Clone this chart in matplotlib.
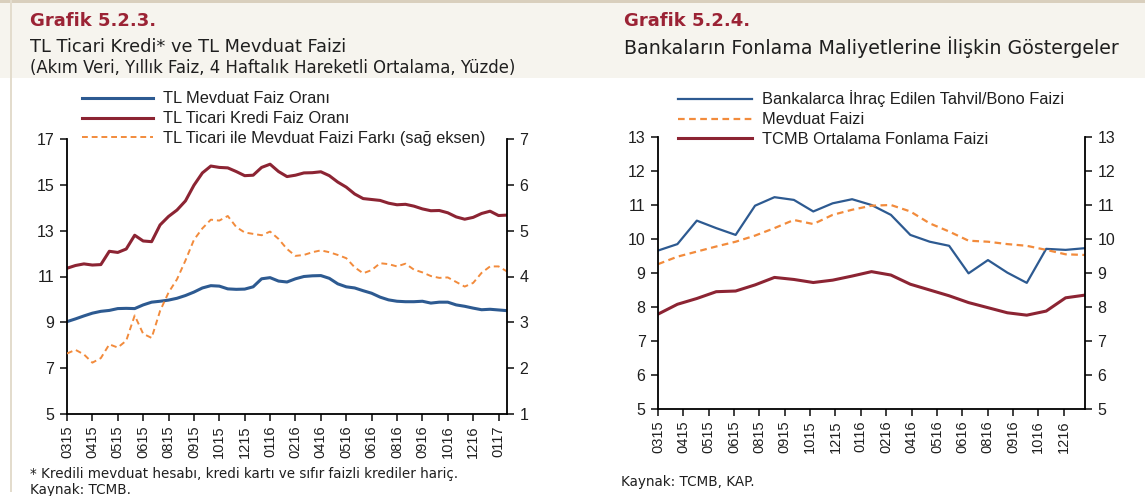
import numpy as np
import matplotlib
matplotlib.use("Agg")
import matplotlib.pyplot as plt
from matplotlib.patches import Rectangle

# ---- data: Grafik 5.2.3 (weekly-ish points, left chart)
left_ticklabels = ['0315', '0415', '0515', '0615', '0815', '0915', '1015', '1215', '0116',
                   '0216', '0416', '0516', '0616', '0816', '0916', '1016', '1216', '0117']

kredi = [11.36, 11.48, 11.55, 11.50, 11.52, 12.10, 12.05, 12.20, 12.80, 12.55, 12.52, 13.25,
         13.62, 13.90, 14.30, 14.98, 15.52, 15.82, 15.76, 15.74, 15.58, 15.40, 15.42, 15.76,
         15.90, 15.58, 15.36, 15.42, 15.52, 15.53, 15.57, 15.40, 15.12, 14.90, 14.60, 14.40,
         14.36, 14.32, 14.20, 14.13, 14.15, 14.07, 13.95, 13.87, 13.88, 13.78, 13.60, 13.50,
         13.58, 13.75, 13.85, 13.66, 13.68]

mevduat = [9.03, 9.15, 9.28, 9.40, 9.48, 9.52, 9.60, 9.61, 9.60, 9.76, 9.88, 9.92,
           9.97, 10.05, 10.17, 10.32, 10.50, 10.60, 10.58, 10.46, 10.44, 10.45, 10.55, 10.90,
           10.95, 10.80, 10.76, 10.90, 11.00, 11.03, 11.04, 10.92, 10.68, 10.55, 10.50, 10.38,
           10.27, 10.10, 9.98, 9.92, 9.90, 9.90, 9.92, 9.84, 9.88, 9.88, 9.76, 9.70,
           9.62, 9.55, 9.57, 9.54, 9.51]

fark = [2.32, 2.40, 2.30, 2.12, 2.22, 2.52, 2.45, 2.60, 3.15, 2.75, 2.66, 3.25,
        3.65, 3.94, 4.35, 4.80, 5.05, 5.24, 5.22, 5.32, 5.08, 4.96, 4.93, 4.90,
        4.98, 4.82, 4.60, 4.45, 4.47, 4.53, 4.57, 4.53, 4.47, 4.40, 4.20, 4.07,
        4.14, 4.29, 4.27, 4.22, 4.28, 4.15, 4.09, 4.01, 3.97, 3.98, 3.88, 3.78,
        3.86, 4.08, 4.22, 4.22, 4.11]

# ---- data: Grafik 5.2.4 (monthly, 0315-0117, right chart)
right_ticklabels = ['0315', '0415', '0515', '0615', '0815', '0915', '1015', '1215', '0116',
                    '0216', '0416', '0516', '0616', '0816', '0916', '1016', '1216']

tahvil = [9.66, 9.85, 10.54, 10.32, 10.12, 10.98, 11.23, 11.15, 10.81, 11.05, 11.17, 11.00,
          10.71, 10.12, 9.92, 9.80, 8.99, 9.38, 9.01, 8.71, 9.71, 9.68, 9.73]
mevduat_faizi = [9.26, 9.48, 9.63, 9.78, 9.92, 10.10, 10.32, 10.56, 10.44, 10.71, 10.86, 10.98,
                 11.00, 10.81, 10.46, 10.22, 9.95, 9.92, 9.85, 9.80, 9.68, 9.55, 9.53]
tcmb = [7.79, 8.08, 8.25, 8.45, 8.47, 8.65, 8.87, 8.81, 8.72, 8.79, 8.91, 9.04,
        8.94, 8.67, 8.50, 8.33, 8.13, 7.98, 7.83, 7.76, 7.88, 8.27, 8.35]

BLUE = '#2d5a91'
RED = '#8c2433'
ORANGE = '#f28b3c'
MAROON = '#9b2335'
TXT = '#1f1f1f'

plt.rcParams['font.family'] = ['Liberation Sans', 'DejaVu Sans']
fig = plt.figure(figsize=(11.45, 4.96), dpi=100)

# page decoration: header band, top rule, left rule
fig.patches.append(Rectangle((0, 1 - 78 / 496), 1, 76 / 496, transform=fig.transFigure,
                             facecolor='#f6f4ee', edgecolor='none', zorder=0))
fig.patches.append(Rectangle((0, 1 - 3 / 496), 1, 3 / 496, transform=fig.transFigure,
                             facecolor='#d9cfbd', edgecolor='none', zorder=0))
fig.patches.append(Rectangle((10 / 1145, 4 / 496), 2 / 1145, 1 - 4 / 496, transform=fig.transFigure,
                             facecolor='#e3dccd', edgecolor='none', zorder=0))

title_font = ['DejaVu Sans']
LEG_FS = 11.8


def style_axes(ax, twin):
    ax.spines['top'].set_visible(False)
    ax.spines['right'].set_visible(False)
    twin.spines['top'].set_visible(False)
    twin.spines['left'].set_visible(False)
    twin.spines['bottom'].set_visible(False)
    for sp in ['left', 'bottom']:
        ax.spines[sp].set_linewidth(1.3)
    twin.spines['right'].set_linewidth(1.3)
    ax.tick_params(axis='y', direction='out', length=5, width=1.2, labelsize=11.5, pad=4, colors=TXT)
    ax.tick_params(axis='x', direction='out', length=5, width=1.2, labelsize=10.5, pad=3,
                   colors=TXT, labelrotation=90)
    twin.tick_params(axis='y', direction='out', length=5, width=1.2, labelsize=11.5, pad=4, colors=TXT)


def add_legend(ax, handles, anchor, hl):
    leg = ax.legend(handles, [h.get_label() for h in handles], loc='lower left',
                    bbox_to_anchor=anchor, frameon=False, fontsize=LEG_FS, handlelength=hl,
                    handletextpad=0.6, labelspacing=0.29, borderaxespad=0, borderpad=0)
    for t in leg.get_texts():
        t.set_color(TXT)
    return leg


# ---------------- left chart
ax1 = fig.add_axes([67 / 1145, 1 - 414 / 496, 440 / 1145, 275 / 496])
ax1b = ax1.twinx()
x1 = np.arange(len(kredi))
l_mev, = ax1.plot(x1, mevduat, color=BLUE, lw=2.2, label='TL Mevduat Faiz Oranı')
l_kre, = ax1.plot(x1, kredi, color=RED, lw=2.2, label='TL Ticari Kredi Faiz Oranı')
l_far, = ax1b.plot(x1, fark, color=ORANGE, lw=1.4, ls=(0, (3, 2)),
                   label='TL Ticari ile Mevduat Faizi Farkı (sağ eksen)')
ax1.set_xlim(0, len(kredi) - 1)
ax1.set_ylim(5, 17)
ax1.set_yticks(np.arange(5, 18, 2))
ax1b.set_ylim(1, 7)
ax1b.set_yticks(np.arange(1, 8, 1))
ax1.set_xticks(np.arange(0, len(kredi) - 1, 3))
ax1.set_xticklabels(left_ticklabels)
style_axes(ax1, ax1b)
add_legend(ax1, [l_mev, l_kre, l_far], (15 / 440, 1 - 7 / 275), 4.35)

fig.text(30 / 1145, 1 - 21 / 496, 'Grafik 5.2.3.', fontsize=13, fontweight='bold',
         color=MAROON, va='center', ha='left', family=title_font)
fig.text(30 / 1145, 1 - 47 / 496, 'TL Ticari Kredi* ve TL Mevduat Faizi', fontsize=12.8,
         color=TXT, va='center', ha='left', family=title_font)
fig.text(30 / 1145, 1 - 68 / 496, '(Akım Veri, Yıllık Faiz, 4 Haftalık Hareketli Ortalama, Yüzde)',
         fontsize=11.9, color=TXT, va='center', ha='left', family=title_font)
fig.text(30 / 1145, 1 - 474 / 496,
         '* Kredili mevduat hesabı, kredi kartı ve sıfır faizli krediler hariç.',
         fontsize=9.75, color=TXT, va='center', ha='left', family=title_font)
fig.text(30 / 1145, 1 - 490 / 496, 'Kaynak: TCMB.', fontsize=9.75, color=TXT, va='center',
         ha='left', family=title_font)

# ---------------- right chart
ax2 = fig.add_axes([658 / 1145, 1 - 409 / 496, 427 / 1145, 272 / 496])
ax2b = ax2.twinx()
x2 = np.arange(len(tahvil))
r_tah, = ax2.plot(x2, tahvil, color=BLUE, lw=1.6, label='Bankalarca İhraç Edilen Tahvil/Bono Faizi')
r_mev, = ax2.plot(x2, mevduat_faizi, color=ORANGE, lw=1.6, ls=(0, (3, 2)), label='Mevduat Faizi')
r_tcm, = ax2.plot(x2, tcmb, color=RED, lw=2.2, label='TCMB Ortalama Fonlama Faizi')
ax2.set_xlim(0, len(tahvil) - 1)
for a in (ax2, ax2b):
    a.set_ylim(5, 13)
    a.set_yticks(np.arange(5, 14, 1))
ax2.set_xticks(np.linspace(0, 20.9, len(right_ticklabels)))
ax2.set_xticklabels(right_ticklabels)
style_axes(ax2, ax2b)
add_legend(ax2, [r_tah, r_mev, r_tcm], (20 / 427, 1 - 10 / 272), 4.5)

fig.text(624 / 1145, 1 - 21 / 496, 'Grafik 5.2.4.', fontsize=13, fontweight='bold',
         color=MAROON, va='center', ha='left', family=title_font)
fig.text(624 / 1145, 1 - 47 / 496, 'Bankaların Fonlama Maliyetlerine İlişkin Göstergeler',
         fontsize=13.7, color=TXT, va='center', ha='left', family=title_font)
fig.text(621 / 1145, 1 - 482 / 496, 'Kaynak: TCMB, KAP.', fontsize=9.75, color=TXT,
         va='center', ha='left', family=title_font)

fig.savefig('out.png', dpi=100)
